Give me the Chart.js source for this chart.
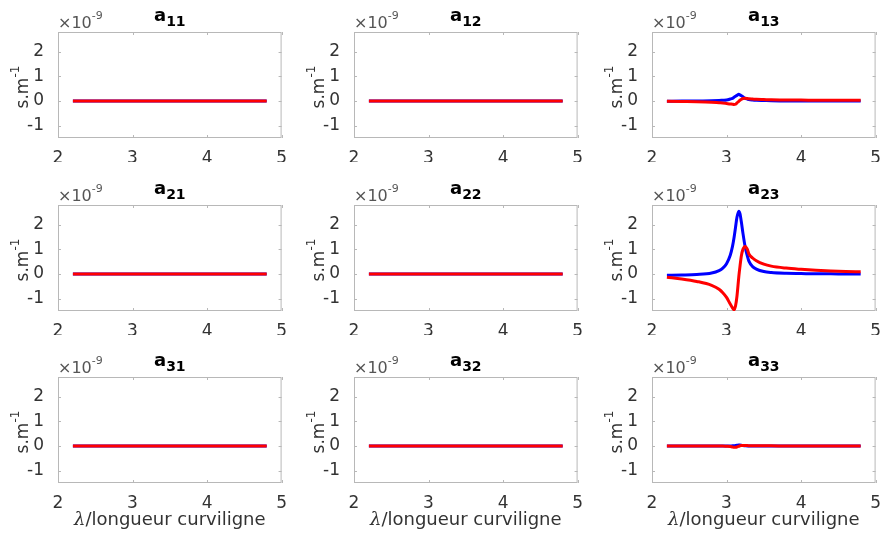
<!DOCTYPE html>
<html>
<head>
<meta charset="utf-8">
<script src="https://cdn.jsdelivr.net/npm/chart.js@4.4.0/dist/chart.umd.min.js"></script>
<style>
  html, body { margin: 0; padding: 0; background: #fff; overflow: hidden; }
  body { width: 881px; height: 538px; position: relative; }
  canvas { position: absolute; }
</style>
</head>
<body>
<script>
// wavelength / curvilinear length samples
const lambda = [2.2, 2.4, 2.6, 2.8, 2.9, 2.95, 3.0, 3.05, 3.08, 3.1, 3.12, 3.14, 3.165, 3.18,
  3.2, 3.22, 3.25, 3.28, 3.3, 3.35, 3.4, 3.5, 3.6, 3.8, 4.0, 4.2, 4.4, 4.6, 4.8];

// values in units of 1e-9 s.m^-1
const a13Blue = [-0.01, 0, 0, 0.01, 0.02, 0.03, 0.04, 0.08, 0.11, 0.15, 0.19, 0.23, 0.27, 0.25,
  0.21, 0.17, 0.11, 0.08, 0.06, 0.04, 0.03, 0.02, 0.01, 0, 0, 0, 0, 0, 0];
const a13Red = [-0.01, -0.02, -0.03, -0.05, -0.07, -0.08, -0.1, -0.12, -0.13, -0.14, -0.13, -0.08, -0.01, 0.03,
  0.07, 0.1, 0.11, 0.1, 0.09, 0.08, 0.07, 0.06, 0.05, 0.04, 0.04, 0.03, 0.03, 0.03, 0.03];
const a23Blue = [-0.05, -0.04, -0.02, 0.04, 0.14, 0.24, 0.42, 0.76, 1.12, 1.46, 1.88, 2.3, 2.55, 2.45,
  2.09, 1.66, 1.1, 0.72, 0.52, 0.3, 0.2, 0.1, 0.06, 0.03, 0.02, 0.01, 0.01, 0, 0];
const a23Red = [-0.13, -0.2, -0.3, -0.46, -0.62, -0.76, -0.95, -1.22, -1.37, -1.45, -1.3, -0.9, -0.1, 0.3,
  0.75, 1.0, 1.12, 1.0, 0.82, 0.65, 0.54, 0.4, 0.32, 0.24, 0.19, 0.15, 0.12, 0.1, 0.09];
const a33Blue = [0, 0, 0, 0, 0, 0, 0, 0, 0.01, 0.01, 0.02, 0.03, 0.04, 0.04,
  0.03, 0.02, 0.01, 0, 0, 0, 0, 0, 0, 0, 0, 0, 0, 0, 0];
const a33Red = [0, 0, 0, 0, 0, 0, -0.01, -0.02, -0.04, -0.05, -0.05, -0.04, -0.01, 0.01,
  0.02, 0.02, 0.02, 0.02, 0.01, 0.01, 0.01, 0.01, 0.01, 0, 0, 0, 0, 0, 0];
const flatLambda = [2.2, 4.8];
const flatZero = [0, 0];

const xTicks = [2, 3, 4, 5];
const yTicks = [-1, 0, 1, 2];
const panelNames = ['11', '12', '13', '21', '22', '23', '31', '32', '33'];
const panelSeries = {
  '13': [lambda, a13Blue, a13Red],
  '23': [lambda, a23Blue, a23Red],
  '33': [lambda, a33Blue, a33Red]
};

// layout (matches the MATLAB subplot grid)
const colLeft = [58, 354, 652];
const rowTop = [32, 205, 377];
const boxW = 225, boxH = 106;
const padL = 52, padT = 32, padR = 6;
const FONT = '"DejaVu Sans", sans-serif';

const frame = {
  id: 'frame',
  beforeDatasetsDraw(chart) {
    const { ctx, chartArea: a, scales: { x, y } } = chart;
    ctx.save();
    ctx.strokeStyle = '#b8b8b8';
    ctx.lineWidth = 1;
    ctx.strokeRect(a.left + 0.5, a.top + 0.5, a.width - 1, a.height - 1);
    ctx.beginPath();
    xTicks.forEach(v => {
      const px = Math.round(x.getPixelForValue(v)) + 0.5;
      ctx.moveTo(px, a.bottom); ctx.lineTo(px, a.bottom - 3);
      ctx.moveTo(px, a.top); ctx.lineTo(px, a.top + 3);
    });
    yTicks.forEach(v => {
      const py = Math.round(y.getPixelForValue(v)) + 0.5;
      ctx.moveTo(a.left, py); ctx.lineTo(a.left + 3, py);
      ctx.moveTo(a.right, py); ctx.lineTo(a.right - 3, py);
    });
    ctx.stroke();
    ctx.restore();
  },
  afterDraw(chart, args, opts) {
    const { ctx, chartArea: a } = chart;
    ctx.save();
    ctx.textAlign = 'left';
    ctx.textBaseline = 'alphabetic';

    // title a_ij
    ctx.fillStyle = '#000';
    ctx.font = 'bold 18px ' + FONT;
    const wa = ctx.measureText('a').width;
    ctx.font = 'bold 14px ' + FONT;
    const ws = ctx.measureText(opts.sub).width;
    const tx = (a.left + a.right) / 2 - (wa + ws) / 2;
    ctx.font = 'bold 18px ' + FONT;
    ctx.fillText('a', tx, a.top - 11);
    ctx.font = 'bold 14px ' + FONT;
    ctx.fillText(opts.sub, tx + wa, a.top - 6);

    // exponent x10^-9
    ctx.fillStyle = '#555';
    ctx.font = '16px ' + FONT;
    ctx.fillText('×10', a.left, a.top - 4);
    const w10 = ctx.measureText('×10').width;
    ctx.font = '11px ' + FONT;
    ctx.fillText('-9', a.left + w10, a.top - 13);

    // y label s.m^-1
    ctx.fillStyle = '#333';
    ctx.font = '17px ' + FONT;
    const wsm = ctx.measureText('s.m').width;
    ctx.font = '12px ' + FONT;
    const wexp = ctx.measureText('-1').width;
    ctx.translate(a.left - 35, a.top + 55);
    ctx.rotate(-Math.PI / 2);
    const u0 = -(wsm + wexp) / 2;
    ctx.font = '17px ' + FONT;
    ctx.fillText('s.m', u0, 5);
    ctx.font = '12px ' + FONT;
    ctx.fillText('-1', u0 + wsm, -4);
    ctx.setTransform(1, 0, 0, 1, 0, 0);

    // x label on bottom row
    if (opts.xlabel) {
      const lam = 'italic 18px "DejaVu Serif", serif';
      const rest = '/longueur curviligne';
      ctx.font = lam;
      const wl = ctx.measureText('λ').width;
      ctx.font = '18px ' + FONT;
      const wr = ctx.measureText(rest).width;
      const sx = (a.left + a.right) / 2 - (wl + wr) / 2;
      ctx.fillStyle = '#333';
      ctx.font = lam;
      ctx.fillText('λ', sx, a.bottom + 42);
      ctx.font = '18px ' + FONT;
      ctx.fillText(rest, sx + wl, a.bottom + 42);
    }
    ctx.restore();
  }
};

function toPoints(xs, ys) {
  return xs.map((x, i) => ({ x: x, y: ys[i] }));
}

panelNames.forEach((name, idx) => {
  const row = Math.floor(idx / 3), col = idx % 3;
  const padB = row === 2 ? 55 : 24;
  const cv = document.createElement('canvas');
  cv.width = padL + boxW + padR;
  cv.height = padT + boxH + padB;
  cv.style.left = (colLeft[col] - padL) + 'px';
  cv.style.top = (rowTop[row] - padT) + 'px';
  cv.style.width = cv.width + 'px';
  cv.style.height = cv.height + 'px';
  document.body.appendChild(cv);

  const s = panelSeries[name] || [flatLambda, flatZero, flatZero];
  const lineStyle = { borderWidth: 3, pointRadius: 0, fill: false, cubicInterpolationMode: 'monotone' };

  new Chart(cv.getContext('2d'), {
    type: 'line',
    data: {
      // red listed first so it is drawn on top of blue
      datasets: [
        Object.assign({ label: 'rouge', data: toPoints(s[0], s[2]), borderColor: '#ff0000' }, lineStyle),
        Object.assign({ label: 'bleu', data: toPoints(s[0], s[1]), borderColor: '#0000ff' }, lineStyle)
      ]
    },
    options: {
      responsive: false,
      animation: false,
      devicePixelRatio: 1,
      layout: { padding: { left: 0, top: padT, right: padR, bottom: 0 } },
      plugins: {
        legend: { display: false },
        tooltip: { enabled: false },
        frame: { sub: name, xlabel: row === 2 }
      },
      scales: {
        x: {
          type: 'linear', min: 2, max: 5,
          afterFit: sc => { sc.height = padB; },
          afterBuildTicks: sc => { sc.ticks = xTicks.map(v => ({ value: v })); },
          grid: { display: false },
          border: { display: false },
          ticks: { color: '#333', font: { family: 'DejaVu Sans', size: 17 }, padding: 2, maxRotation: 0, autoSkip: false }
        },
        y: {
          type: 'linear', min: -1.5, max: 2.8,
          afterFit: sc => { sc.width = padL; },
          afterBuildTicks: sc => { sc.ticks = yTicks.map(v => ({ value: v })); },
          grid: { display: false },
          border: { display: false },
          ticks: { color: '#333', font: { family: 'DejaVu Sans', size: 17 }, padding: 6 }
        }
      }
    },
    plugins: [frame]
  });
});
</script>
</body>
</html>
